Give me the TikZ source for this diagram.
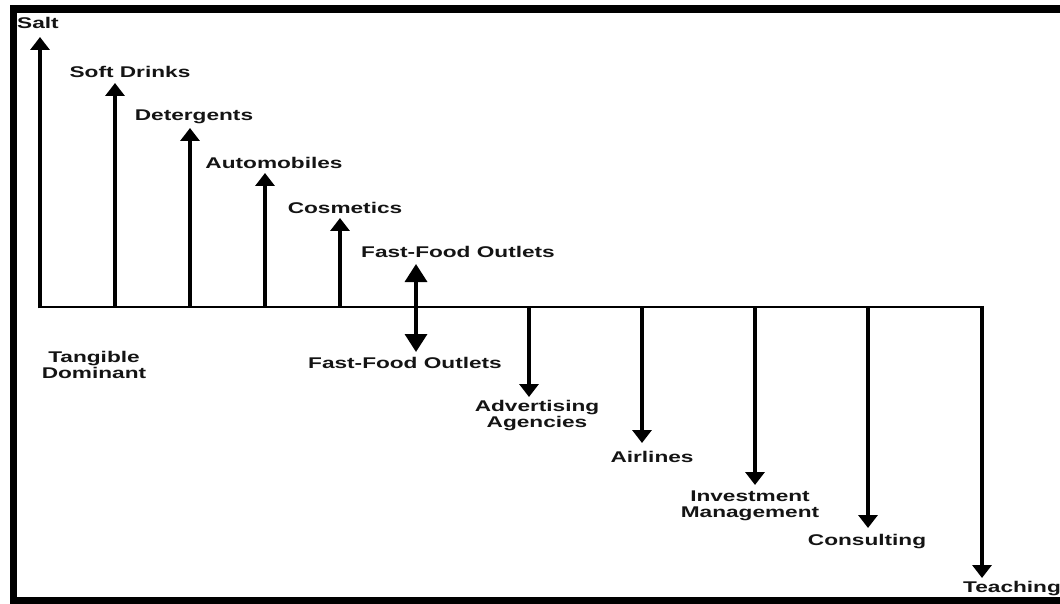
\documentclass[tikz,border=0pt]{standalone}
\usepackage{fontspec}
\setmainfont[FakeStretch=1.46]{Liberation Sans}
\usetikzlibrary{arrows.meta}
\begin{document}
\begin{tikzpicture}[x=1pt,y=-1pt,
  lab/.style={font=\bfseries\fontsize{15.5}{16}\selectfont, text=black!92, inner sep=0pt, align=center},
  arr/.style={line width=3.5pt, -{Triangle[width=19pt,length=13pt]}},
  dbl/.style={line width=3.5pt, {Triangle[width=22pt,length=18pt]}-{Triangle[width=22pt,length=18pt]}},
  baseline/.style={line width=2.5pt, line cap=rect},
  frame/.style={line width=7.5pt}]
\useasboundingbox (0,0) rectangle (1060,604);
\clip (0,0) rectangle (1060,604);
\draw[frame] (13.5,9) rectangle (1090,600.5);

% base points on the horizontal line
\coordinate (b0) at (40,307);
\coordinate (b1) at (115,307);
\coordinate (b2) at (190,307);
\coordinate (b3) at (265,307);
\coordinate (b4) at (340,307);
\coordinate (b5) at (416,307);
\coordinate (b6) at (529,307);
\coordinate (b7) at (642,307);
\coordinate (b8) at (755,307);
\coordinate (b9) at (868,307);
\coordinate (b10) at (982,307);

% arrow tips
\coordinate (t0) at (40,37);
\coordinate (t1) at (115,83);
\coordinate (t2) at (190,128);
\coordinate (t3) at (265,173);
\coordinate (t4) at (340,218);
\coordinate (t5a) at (416,264);
\coordinate (t5b) at (416,352);
\coordinate (t6) at (529,397);
\coordinate (t7) at (642,443);
\coordinate (t8) at (755,485);
\coordinate (t9) at (868,528);
\coordinate (t10) at (982,578);

\draw[baseline] (b0) -- (b10);

\draw[arr] ([yshift=-1.25pt]b0) -- (t0);
\draw[arr] (b1) -- (t1);
\draw[arr] (b2) -- (t2);
\draw[arr] (b3) -- (t3);
\draw[arr] (b4) -- (t4);
\draw[dbl] (t5a) -- (t5b);
\draw[arr] (b6) -- (t6);
\draw[arr] (b7) -- (t7);
\draw[arr] (b8) -- (t8);
\draw[arr] (b9) -- (t9);
\draw[arr] ([yshift=1.25pt]b10) -- (t10);

% labels
\node[lab] (salt) at (38,23) {Salt};
\node[lab] (soft) at (130,72) {Soft Drinks};
\node[lab] (det) at (194,117) {Detergents};
\node[lab] (auto) at (274,163) {Automobiles};
\node[lab] (cos) at (345,208) {Cosmetics};
\node[lab] (ffa) at (458,252) {Fast-Food Outlets};
\node[lab] (ffb) at (405,363) {Fast-Food Outlets};
\node[lab] (tan) at (94,365) {Tangible\\Dominant};
\node[lab] (adv) at (537,416) {Advertising\\Agencies};
\node[lab] (air) at (652,457) {Airlines};
\node[lab] (inv) at (750,506) {Investment\\Management};
\node[lab] (con) at (867,542) {Consulting};
\node[lab, anchor=west] (tea) at (963,589) {Teaching};
\end{tikzpicture}
\end{document}
